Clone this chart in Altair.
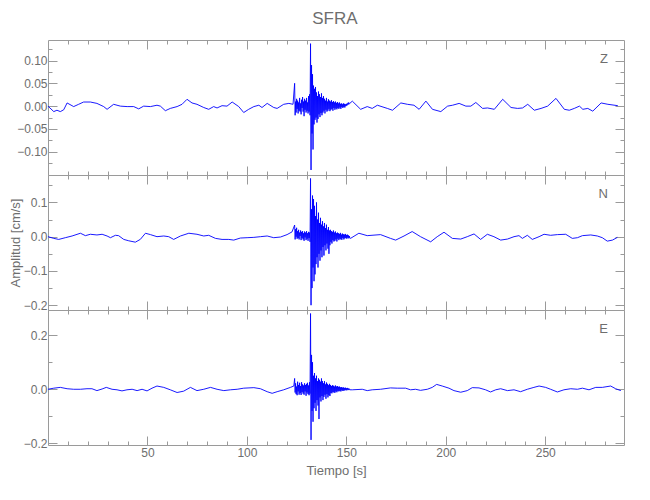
import altair as alt
import pandas as pd

# ---------------- data ----------------
X_DOMAIN = [0, 289.6]
BURST_T0 = 124.0
BURST_DT = 0.25

# Z component
z_quiet_a = [(0, 0.000), (2.9, -0.012), (4.5, -0.009), (6.2, -0.012), (7.9, -0.008), (9.6, 0.007),
             (12.9, -0.001), (15.4, 0.004), (17.9, 0.009), (21.3, 0.009), (24.6, 0.006), (28.0, -0.001),
             (29.7, -0.007), (33.0, 0.004), (36.4, 0.000), (39.8, -0.001), (43.1, -0.001), (45.6, -0.006),
             (48.1, 0.000), (51.5, -0.001), (54.8, 0.002), (56.5, 0.000), (59.0, -0.010), (61.5, -0.005),
             (64.9, -0.001), (67.4, 0.004), (69.9, 0.015), (72.4, 0.007), (74.9, 0.004), (78.3, -0.003),
             (80.8, -0.007), (83.3, -0.001), (85.0, -0.004), (87.5, 0.001), (90.0, 0.000), (92.6, 0.009),
             (95.9, -0.001), (98.4, -0.014), (100.9, -0.007), (103.5, -0.001), (106.0, 0.002), (107.6, -0.003),
             (110.2, 0.006), (113.5, -0.003), (115.2, -0.005), (118.5, 0.004), (121.1, 0.006), (123.2, 0.004)]
z_burst = [0.050, -0.020, 0.010, -0.014, 0.016, -0.006, 0.012, -0.016,
           0.008, -0.010, 0.018, -0.012, 0.006, -0.018, 0.014, -0.004,
           0.020, -0.012, 0.010, -0.022, 0.016, -0.008, 0.012, -0.014,
           0.018, -0.010, 0.008, -0.016, 0.022, -0.012, 0.026, -0.020,
           0.137, -0.140, 0.090, -0.060, 0.070, -0.095, 0.045, -0.040,
           0.038, -0.030, 0.042, -0.025, 0.030, -0.036, 0.022, -0.028,
           0.032, -0.018, 0.026, -0.024, 0.020, -0.015, 0.028, -0.020,
           0.018, -0.014, 0.022, -0.010, 0.016, -0.016, 0.012, -0.008,
           0.018, -0.012, 0.010, -0.010, 0.015, -0.006, 0.012, -0.011,
           0.010, -0.008, 0.013, -0.006, 0.009, -0.010, 0.011, -0.004,
           0.008, -0.008, 0.010, -0.005, 0.007, -0.007, 0.009, -0.004,
           0.006, -0.006, 0.008, -0.003, 0.005, -0.006, 0.006, -0.002,
           0.004, -0.004, 0.006, -0.002, 0.005, -0.003, 0.004, 0.000,
           0.005, 0.001, 0.006, 0.003, 0.008, 0.004, 0.007, 0.006]
z_quiet_b = [(153.0, 0.011), (157.2, -0.007), (160.5, -0.001), (163.0, -0.005), (165.6, 0.002), (170.6, -0.005),
             (173.2, -0.009), (177.4, 0.007), (180.7, 0.004), (184.0, 0.002), (186.6, -0.007), (190.0, 0.011),
             (193.3, -0.007), (197.5, -0.012), (200.9, 0.000), (203.4, 0.002), (206.7, 0.006), (210.1, 0.000),
             (212.6, 0.000), (215.1, 0.008), (218.5, -0.005), (221.0, -0.004), (224.4, -0.007), (228.6, 0.015),
             (232.8, -0.003), (236.1, -0.005), (238.6, -0.004), (241.2, 0.004), (244.5, -0.009), (247.9, -0.005),
             (251.2, 0.000), (255.4, 0.017), (259.6, -0.007), (262.1, -0.009), (264.6, -0.005), (267.2, 0.000),
             (268.9, -0.007), (271.4, -0.005), (273.9, -0.011), (278.1, 0.007), (281.5, 0.004), (286.5, 0.001)]

# N component
n_quiet_a = [(0, 0.000), (2.9, -0.005), (5.4, -0.008), (8.7, -0.003), (12.1, 0.002), (16.3, 0.010),
             (18.8, 0.003), (21.3, 0.007), (24.6, 0.005), (27.2, 0.007), (29.7, 0.002), (31.4, -0.003),
             (33.9, 0.004), (35.5, 0.003), (38.1, -0.008), (40.6, -0.012), (43.9, -0.016), (46.4, -0.008),
             (49.0, 0.010), (51.5, 0.006), (54.8, 0.000), (58.2, 0.002), (60.7, 0.000), (63.2, -0.008),
             (66.6, 0.002), (70.8, 0.010), (74.9, 0.007), (78.3, 0.002), (80.8, 0.004), (84.2, -0.005),
             (87.5, -0.008), (90.9, -0.008), (93.4, -0.010), (96.7, -0.004), (100.1, -0.003), (103.5, -0.002),
             (106.8, 0.000), (110.2, 0.002), (113.5, -0.003), (116.9, -0.001), (120.2, 0.006), (122.7, 0.014)]
n_burst = [0.034, -0.008, 0.022, 0.000, 0.026, -0.006, 0.016, -0.004,
           0.020, -0.008, 0.012, 0.002, 0.018, -0.010, 0.014, -0.004,
           0.016, -0.008, 0.010, -0.012, 0.015, -0.002, 0.012, -0.010,
           0.016, -0.006, 0.010, -0.012, 0.014, -0.004, 0.012, -0.015,
           0.170, -0.200, 0.080, -0.150, 0.120, -0.090, 0.110, -0.130,
           0.090, -0.110, 0.060, -0.080, 0.100, -0.060, 0.050, -0.090,
           0.070, -0.050, 0.040, -0.070, 0.055, -0.040, 0.035, -0.060,
           0.045, -0.030, 0.030, -0.055, 0.040, -0.025, 0.025, -0.040,
           0.035, -0.020, 0.020, -0.035, 0.028, -0.050, 0.018, -0.025,
           0.020, -0.015, 0.016, -0.020, 0.014, -0.010, 0.018, -0.014,
           0.012, -0.012, 0.015, -0.008, 0.010, -0.014, 0.012, -0.006,
           0.010, -0.010, 0.008, -0.006, 0.011, -0.008, 0.006, -0.009,
           0.009, -0.004, 0.007, -0.008, 0.006, -0.005, 0.008, -0.004,
           0.005, -0.006, 0.006, -0.003, 0.004, -0.005, 0.002, -0.004]
n_quiet_b = [(152.1, -0.005), (156.3, 0.010), (160.5, 0.003), (167.2, 0.006), (172.2, -0.005), (174.8, -0.010),
             (179.0, 0.002), (183.1, 0.015), (187.3, 0.000), (192.4, -0.015), (195.7, 0.000), (199.1, 0.013),
             (203.3, -0.005), (207.5, -0.007), (210.8, 0.000), (214.2, 0.008), (217.5, -0.008), (220.9, 0.007),
             (224.2, 0.000), (227.6, -0.010), (231.0, -0.007), (234.3, 0.000), (236.8, 0.003), (238.5, -0.005),
             (241.0, 0.004), (243.5, -0.008), (246.9, 0.000), (249.4, 0.007), (252.7, 0.004), (256.1, 0.006),
             (260.3, 0.007), (263.6, -0.005), (266.2, -0.003), (268.7, 0.003), (272.9, 0.005), (276.2, 0.002),
             (278.7, -0.003), (281.2, -0.013), (283.8, -0.010), (286.3, -0.002)]

# E component
e_quiet_a = [(0, 0.000), (2.9, 0.004), (6.2, 0.007), (9.6, 0.002), (12.9, 0.000), (16.3, 0.000),
             (19.6, 0.002), (22.1, 0.002), (24.6, -0.005), (27.2, 0.001), (29.3, 0.007), (32.2, 0.000),
             (34.7, -0.002), (37.2, -0.006), (39.7, -0.002), (42.3, 0.000), (44.8, -0.005), (47.3, 0.000),
             (49.8, -0.006), (52.3, 0.004), (54.8, 0.012), (58.2, 0.007), (61.5, -0.002), (64.9, -0.012),
             (68.2, -0.007), (71.6, 0.007), (74.9, -0.005), (78.3, 0.000), (81.7, 0.007), (85.0, 0.000),
             (88.4, -0.005), (91.7, -0.002), (95.1, 0.000), (98.4, 0.004), (103.5, 0.006), (106.8, 0.002),
             (110.2, -0.009), (112.7, -0.015), (115.2, -0.009), (118.5, -0.002), (121.9, 0.007), (123.6, 0.012)]
e_burst = [0.040, -0.012, 0.022, -0.018, 0.010, -0.022, 0.028, -0.008,
           0.016, -0.020, 0.024, -0.014, 0.012, -0.021, 0.026, -0.010,
           0.018, -0.016, 0.014, -0.020, 0.022, -0.008, 0.016, -0.024,
           0.020, -0.012, 0.024, -0.018, 0.014, -0.022, 0.026, -0.016,
           0.280, -0.187, 0.127, -0.080, 0.100, -0.120, 0.050, -0.070,
           0.060, -0.050, 0.040, -0.080, 0.050, -0.040, 0.030, -0.060,
           0.040, -0.110, 0.035, -0.030, 0.028, -0.045, 0.040, -0.025,
           0.030, -0.040, 0.022, -0.028, 0.030, -0.020, 0.018, -0.035,
           0.025, -0.018, 0.020, -0.030, 0.015, -0.022, 0.020, -0.025,
           0.016, -0.014, 0.012, -0.015, 0.015, -0.010, 0.013, -0.012,
           0.010, -0.013, 0.014, -0.008, 0.010, -0.011, 0.012, -0.006,
           0.009, -0.008, 0.010, -0.006, 0.007, -0.008, 0.008, -0.004,
           0.006, -0.006, 0.007, -0.005, 0.005, -0.004, 0.006, -0.003,
           0.004, -0.004, 0.005, -0.002, 0.003, -0.003, 0.002, -0.002]
e_quiet_b = [(153.0, -0.002), (158.0, 0.000), (160.5, -0.005), (163.0, -0.002), (167.2, 0.000), (172.2, 0.005),
             (175.6, 0.004), (179.8, 0.004), (182.3, -0.002), (184.8, 0.000), (187.3, -0.004), (190.7, 0.000),
             (193.2, 0.007), (195.4, 0.018), (198.2, 0.012), (201.6, 0.004), (204.1, -0.005), (207.5, -0.011),
             (210.8, -0.005), (213.3, 0.006), (216.7, 0.005), (220.0, -0.002), (222.5, -0.010), (225.1, -0.002),
             (227.6, 0.002), (231.0, -0.005), (234.3, -0.002), (237.6, -0.009), (241.0, 0.000), (244.3, 0.007),
             (246.9, 0.012), (250.2, 0.007), (252.7, 0.000), (256.1, -0.010), (259.4, -0.002), (262.8, 0.002),
             (266.2, 0.000), (268.7, 0.004), (272.0, -0.002), (275.4, 0.007), (278.7, 0.007), (282.9, 0.012),
             (285.4, 0.002), (288.0, -0.005)]

# axis tick values
X_MAJOR = [50, 100, 150, 200, 250]
X_MINOR = [10, 20, 30, 40, 60, 70, 80, 90, 110, 120, 130, 140, 160, 170, 180, 190,
           210, 220, 230, 240, 260, 270, 280]
Z_DOMAIN = [-0.151, 0.145]
Z_MAJOR = [-0.10, -0.05, 0.0, 0.05, 0.10]
Z_MINOR = [-0.125, -0.075, -0.025, 0.025, 0.075, 0.125]
N_DOMAIN = [-0.214, 0.180]
N_MAJOR = [-0.2, -0.1, 0.0, 0.1]
N_MINOR = [-0.15, -0.05, 0.05, 0.15]
E_DOMAIN = [-0.206, 0.293]
E_MAJOR = [-0.2, 0.0, 0.2]
E_MINOR = [-0.1, 0.1]

# ---------------- styling ----------------
BLUE = "#0000ff"
TXT = "#6e6e6e"
LINE = "#9a9a9a"
FONT = "Liberation Sans Narrow, Liberation Sans, sans-serif"
MAJ = 9
MIN = 4
W, H = 576, 135


def trace_frame(qa, burst, qb):
    t = [p[0] for p in qa]
    v = [p[1] for p in qa]
    t += [BURST_T0 + BURST_DT * i for i in range(len(burst))]
    v += list(burst)
    t += [p[0] for p in qb]
    v += [p[1] for p in qb]
    return pd.DataFrame({"t": t, "v": v})


def panel(df, dom, ymaj, ymin, fmt, name, bottom, ytitle):
    xs = alt.Scale(domain=X_DOMAIN, nice=False, zero=False)
    ys = alt.Scale(domain=dom, nice=False, zero=False)

    xa = dict(orient="bottom", values=X_MAJOR, tickSize=MAJ, offset=-MAJ, domain=False, grid=False,
              labels=bottom, format="d", labelPadding=2)
    if bottom:
        xa["title"] = "Tiempo [s]"
        xa["titlePadding"] = 6
        xa["titleFontSize"] = 13
    else:
        xa["title"] = None
    ya = dict(orient="left", values=ymaj, format=fmt, tickSize=MAJ, offset=-MAJ, domain=False,
              grid=False, labelPadding=1)
    if ytitle:
        ya["title"] = ytitle
        ya["titlePadding"] = 1
        ya["titleFontSize"] = 13
    else:
        ya["title"] = None

    line = alt.Chart(df).mark_line(color=BLUE, strokeWidth=0.9).encode(
        x=alt.X("t:Q", scale=xs, axis=alt.Axis(**xa)),
        y=alt.Y("v:Q", scale=ys, axis=alt.Axis(**ya)),
    )

    def ghost(xo, xv, xsz, yo, yv, ysz):
        return alt.Chart(df).mark_line(opacity=0).encode(
            x=alt.X("t:Q", scale=xs, axis=alt.Axis(orient=xo, values=xv, tickSize=xsz, offset=-xsz,
                                                    labels=False, domain=False, grid=False, title=None)),
            y=alt.Y("v:Q", scale=ys, axis=alt.Axis(orient=yo, values=yv, tickSize=ysz, offset=-ysz,
                                                    labels=False, domain=False, grid=False, title=None)),
        )

    layers = [
        line,
        ghost("top", X_MAJOR, MAJ, "right", ymaj, MAJ),
        ghost("bottom", X_MINOR, MIN, "left", ymin, MIN),
        ghost("top", X_MINOR, MIN, "right", ymin, MIN),
    ]
    return alt.layer(*layers).resolve_axis(x="independent", y="independent").properties(
        width=W, height=H,
        title=alt.TitleParams(name, anchor="end", orient="top", frame="group", offset=-26, dx=-16,
                              fontSize=13, color=TXT, font=FONT, fontWeight="normal"),
    )


z_df = trace_frame(z_quiet_a, z_burst, z_quiet_b)
n_df = trace_frame(n_quiet_a, n_burst, n_quiet_b)
e_df = trace_frame(e_quiet_a, e_burst, e_quiet_b)

p1 = panel(z_df, Z_DOMAIN, Z_MAJOR, Z_MINOR, ".2f", "Z", False, None)
p2 = panel(n_df, N_DOMAIN, N_MAJOR, N_MINOR, ".1f", "N", False, "Amplitud [cm/s]")
p3 = panel(e_df, E_DOMAIN, E_MAJOR, E_MINOR, ".1f", "E", True, None)

chart = alt.vconcat(p1, p2, p3, spacing=0, bounds="flush").properties(
    title=alt.TitleParams("SFRA", anchor="middle", fontSize=17, color=TXT, font=FONT,
                          fontWeight="normal", offset=11, dx=18),
    padding={"left": 0, "top": 2, "right": 5, "bottom": 5},
).configure_view(
    stroke=LINE, strokeWidth=1
).configure_axis(
    labelFont=FONT, labelFontSize=12, labelColor=TXT, tickColor=LINE, tickWidth=1,
    titleFont=FONT, titleFontSize=12, titleColor=TXT, titleFontWeight="normal",
).configure_concat(spacing=0)

chart.save("out.html", embed_options={"renderer": "svg", "actions": False})
